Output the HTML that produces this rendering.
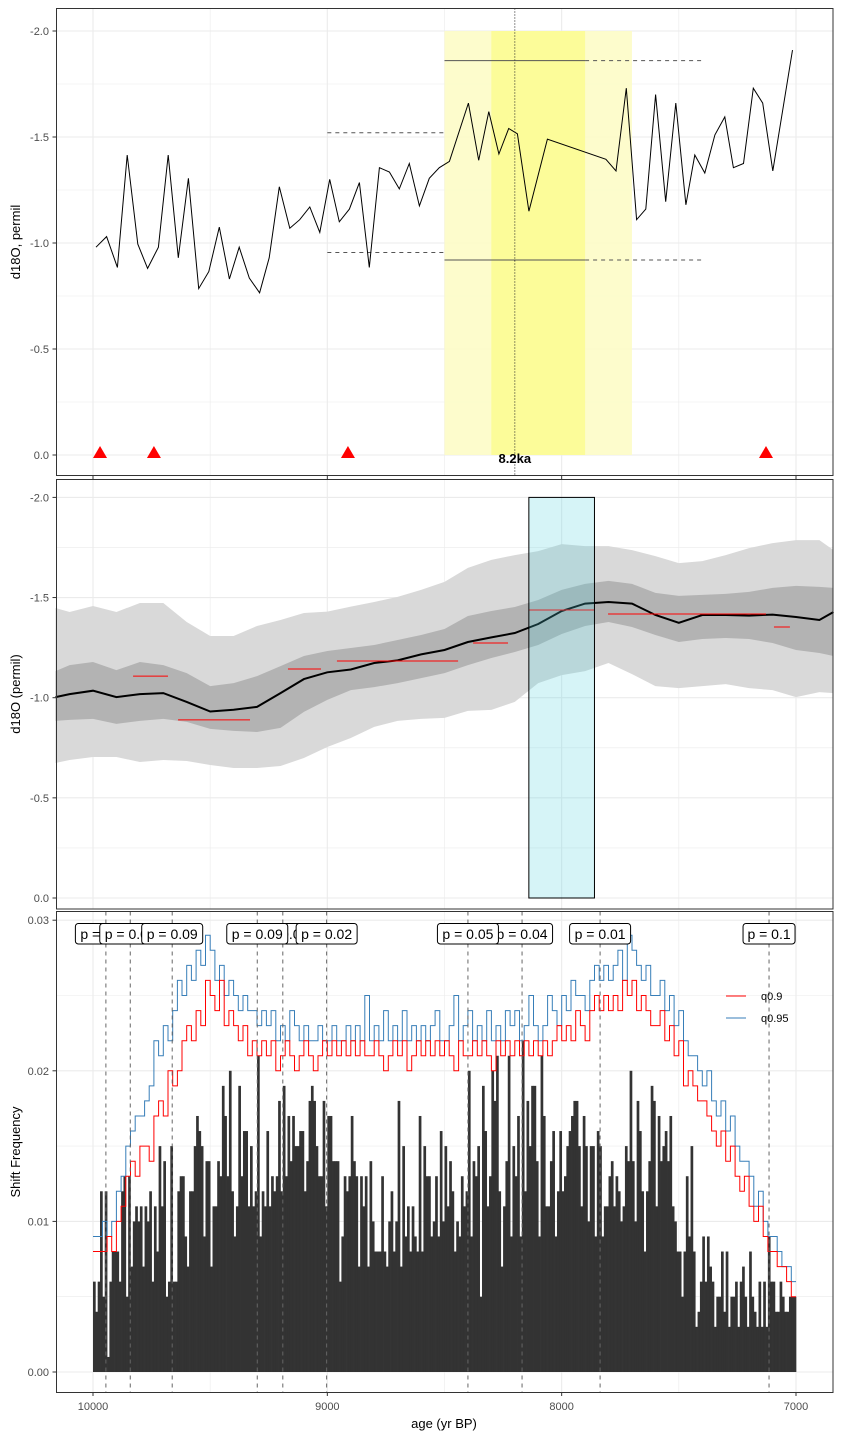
<!DOCTYPE html>
<html><head><meta charset="utf-8"><title>d18O shift analysis</title>
<style>
html,body{margin:0;padding:0;background:#fff;}
svg{display:block;font-family:"Liberation Sans",Arial,sans-serif;}
</style></head>
<body>
<svg id="chart" width="841" height="1439" viewBox="0 0 841 1439" xmlns="http://www.w3.org/2000/svg">
  <rect x="0" y="0" width="841" height="1439" fill="#fff"/>
  <g id="p1"></g>
  <g id="p2"></g>
  <g id="p3"></g>
  <text transform="translate(20,242) rotate(-90)" text-anchor="middle" font-size="13">d18O, permil</text>
  <text transform="translate(20,694) rotate(-90)" text-anchor="middle" font-size="13">d18O (permil)</text>
  <text transform="translate(20,1152) rotate(-90)" text-anchor="middle" font-size="13">Shift Frequency</text>
  <text x="444" y="1428" text-anchor="middle" font-size="13">age (yr BP)</text>
</svg>
<script>
// ---------- Panel 1 data (raw record) ----------
const rawAges = [9987,9942,9896,9854,9809,9767,9721,9679,9636,9593,9549,9506,9461,9418,9376,9333,9289,9248,9205,9160,9118,9075,9032,8990,8949,8906,8863,8821,8778,8735,8693,8650,8607,8565,8522,8479,8398,8354,8311,8268,8226,8189,8140,8061,7811,7768,7724,7680,7641,7599,7556,7513,7470,7432,7389,7346,7304,7267,7224,7182,7142,7099,7015];
const rawValues = [-0.98,-1.03,-0.885,-1.415,-0.995,-0.88,-0.98,-1.415,-0.93,-1.305,-0.785,-0.865,-1.075,-0.83,-0.98,-0.835,-0.765,-0.93,-1.265,-1.07,-1.11,-1.17,-1.05,-1.30,-1.10,-1.16,-1.285,-0.885,-1.355,-1.335,-1.255,-1.375,-1.175,-1.305,-1.355,-1.385,-1.66,-1.39,-1.62,-1.42,-1.54,-1.515,-1.15,-1.49,-1.395,-1.34,-1.73,-1.11,-1.16,-1.70,-1.195,-1.66,-1.18,-1.415,-1.33,-1.51,-1.595,-1.355,-1.375,-1.73,-1.66,-1.34,-1.91];
const triangleAges = [9970,9740,8912,7128];
const eventOuter = [8500,7700];
const eventInner = [8300,7900];
const eventCenter = 8200;
const eventMeans = [-1.86,-0.92];
const preMeans = [-1.52,-0.955];
const p1Ticks = [-2.0,-1.5,-1.0,-0.5,0.0];
const xTicks = [10000,9000,8000,7000];

// ---------- Panel 2 data (smoothed record) ----------
const bandAges = [10160,10100,10000,9900,9800,9700,9600,9500,9400,9300,9200,9100,9000,8900,8800,8700,8600,8500,8400,8300,8200,8100,8000,7900,7800,7700,7600,7500,7400,7300,7200,7100,7000,6900,6840];
const outerUpper = [-1.448,-1.428,-1.458,-1.428,-1.473,-1.473,-1.378,-1.308,-1.308,-1.358,-1.388,-1.423,-1.43,-1.455,-1.478,-1.503,-1.538,-1.578,-1.648,-1.688,-1.712,-1.732,-1.767,-1.757,-1.757,-1.737,-1.707,-1.672,-1.682,-1.712,-1.747,-1.772,-1.787,-1.787,-1.737];
const outerLower = [-0.674,-0.689,-0.704,-0.704,-0.679,-0.689,-0.684,-0.664,-0.649,-0.649,-0.659,-0.699,-0.754,-0.799,-0.854,-0.884,-0.894,-0.899,-0.934,-0.939,-0.979,-1.073,-1.113,-1.133,-1.173,-1.118,-1.058,-1.048,-1.058,-1.068,-1.048,-1.038,-1.003,-1.028,-1.023];
const innerUpper = [-1.133,-1.163,-1.178,-1.138,-1.178,-1.163,-1.123,-1.058,-1.073,-1.108,-1.158,-1.208,-1.233,-1.248,-1.263,-1.288,-1.313,-1.343,-1.408,-1.433,-1.453,-1.488,-1.538,-1.568,-1.583,-1.568,-1.523,-1.508,-1.513,-1.518,-1.528,-1.548,-1.558,-1.553,-1.548];
const innerLower = [-0.884,-0.889,-0.894,-0.869,-0.884,-0.894,-0.879,-0.844,-0.834,-0.829,-0.849,-0.929,-0.989,-1.038,-1.053,-1.073,-1.098,-1.123,-1.163,-1.198,-1.228,-1.263,-1.318,-1.358,-1.378,-1.353,-1.313,-1.278,-1.293,-1.298,-1.293,-1.273,-1.238,-1.223,-1.208];
const meanLine = [-1.003,-1.018,-1.035,-1.003,-1.018,-1.023,-0.979,-0.931,-0.940,-0.954,-1.023,-1.093,-1.127,-1.141,-1.173,-1.186,-1.216,-1.238,-1.278,-1.301,-1.323,-1.368,-1.433,-1.470,-1.478,-1.470,-1.413,-1.374,-1.413,-1.413,-1.410,-1.415,-1.403,-1.388,-1.428];
const segStart = [9829,9637,9168,8959,8378,8139,7802,7094];
const segEnd   = [9680,9330,9027,8442,8229,7862,7128,7026];
const segValue = [-1.108,-0.889,-1.143,-1.183,-1.273,-1.438,-1.418,-1.353];
const highlightAges = [8140,7860];

// ---------- Panel 3 data (shift frequency, thousandths) ----------
const binStartAge = 10000;
const binWidth = 10;
const shiftFreq = [
6,4,6,12,5,12,1,6,8,8, 8,6,12,13,5,13,7,10,11,10, 11,7,11,10,12,6,11,8,15,11, 14,5,6,15,6,6,12,13,13,9,
7,12,12,15,17,16,15,9,14,14, 7,11,11,14,13,19,17,13,20,12, 9,11,19,13,16,16,11,15,11,12, 21,9,12,11,16,11,13,12,13,18,
12,19,13,17,14,17,15,15,16,16, 12,14,18,19,18,15,13,13,18,11,
17,17,14,14,14,6,9,13,12,13, 17,14,13,7,13,11,13,7,14,10, 8,8,8,13,8,7,10,12,8,10, 18,7,15,9,11,8,11,9,8,17,
8,15,13,13,9,10,13,9,16,10, 15,11,14,12,8,10,9,13,11,12, 20,9,14,13,15,5,19,16,11,13, 20,18,21,12,7,11,14,21,9,15,
13,17,9,22,12,18,15,19,19,14, 9,21,17,11,11,14,16,9,12,
16,12,13,15,16,17,18,18,15,11, 17,15,10,15,15,9,16,15,9,11, 11,13,14,11,13,12,10,11,15,14, 20,14,10,18,16,12,8,12,14,19,
18,11,17,14,15,16,14,17,11,10, 8,8,5,8,13,9,15,8,3,4, 6,9,6,9,7,6,3,5,5,8, 4,8,3,5,5,6,3,6,7,5,
3,8,5,4,3,6,3,6,3,9, 6,6,4,4,6,5,4,4,5,5, 5];
const qBinWidth = 20;
const q90 = [8,8,8,9,8, 10,11,13,14,13, 15,15,14,17,18, 17,20,19,20,22, 23,22,24,23,26, 25,24,26,23,24, 23,22,23,21,22, 21,22,21,22,20,
21,22,21,20,21, 22,21,20,21,22, 21,22,21,22,21, 22,21,22,21,21, 22,21,20,21,22, 21,22,20,21,22, 21,22,21,22,21, 22,21,20,22,21,
21,22,21,22,21, 20,22,21,22,21, 22,21,22,21,22, 21,22,21,22,23, 22,23,22,24,23, 22,24,25,24,25, 24,25,24,26,25, 26,24,25,24,23,
23,24,22,23,21, 22,19,20,19,18, 18,17,16,15,16, 14,15,13,12,13, 11,10,11,9,8, 8,7,7,6,5];
const q95 = [9,9,10,9,10, 12,13,15,16,17, 17,18,19,22,21, 23,22,24,26,25, 27,26,28,27,29, 28,26,27,25,26, 25,24,25,24,24, 23,24,23,24,22,
23,22,24,23,22, 23,22,22,23,22, 22,23,22,22,23, 22,23,22,25,22, 23,22,24,22,23, 22,24,22,23,22, 23,22,23,24,22, 22,23,25,22,23,
24,22,23,22,24, 22,23,22,24,23, 24,22,23,25,23, 22,23,25,24,23, 25,24,26,25,25, 24,26,27,26,27, 26,27,28,26,29, 28,27,26,27,25,
25,26,24,25,23, 24,22,21,21,20, 19,20,18,17,18, 16,17,15,14,14, 13,11,12,10,9, 9,8,7,7,6];
const shiftAges = [9945,9190,9841,9662,9299,9003,8169,8400,7836,7115];
const shiftLabels = ["p = 0.08","p = 0.06","p = 0.07","p = 0.09","p = 0.09","p = 0.02","p = 0.04","p = 0.05","p = 0.01","p = 0.1"];
const p3Ticks = [0,10,20,30];
const p3TickLabels = ["0.00","0.01","0.02","0.03"];

// ---------- scales ----------
const NS = "http://www.w3.org/2000/svg";
const PX0 = 56, PX1 = 833;
function xs(a){ return 93 + (10000 - a) * 0.23433; }
function y1(v){ return 455 + v * 212; }
function y2(v){ return 898 + v * 200.3; }
function y3(k){ return 1372 - k * 15.06; }
function mk(tag, attrs, parent){
  const e = document.createElementNS(NS, tag);
  for (const k in attrs) e.setAttribute(k, attrs[k]);
  parent.appendChild(e);
  return e;
}
const p1 = document.getElementById('p1'), p2 = document.getElementById('p2'), p3 = document.getElementById('p3');
const svg = document.getElementById('chart');

function grid(parent, top, bottom, yMajors, yMinors){
  const gx = [10000,9500,9000,8500,8000,7500,7000];
  gx.forEach(a => {
    const l = mk('line', {x1: xs(a), x2: xs(a), y1: top, y2: bottom, stroke: '#ebebeb', 'stroke-width': a % 1000 === 0 ? 1.1 : 0.6}, parent);
    
    
  });
  yMinors.forEach(y => {
    const l = mk('line', {x1: PX0, x2: PX1, y1: y, y2: y, stroke: '#ebebeb', 'stroke-width': 0.6}, parent);
    
    
  });
  yMajors.forEach(y => {
    const l = mk('line', {x1: PX0, x2: PX1, y1: y, y2: y, stroke: '#ebebeb', 'stroke-width': 1.1}, parent);
    
    
  });
}
function yTicks(parent, ys, labels){
  ys.forEach((y, i) => {
    const t = mk('line', {x1: 52.5, x2: 56, y1: y, y2: y, stroke: '#333', 'stroke-width': 1}, parent);
    
    
    const tx = mk('text', {x: 49, y: y + 4, 'text-anchor': 'end', 'font-size': 11, fill: '#4d4d4d'}, parent);
    
    
    tx.textContent = labels[i];
  });
}
function border(parent, top, bottom){
  const r = mk('rect', {x: 56.5, y: top, width: 776.5, height: bottom - top, fill: 'none', stroke: '#333', 'stroke-width': 1}, parent);
  
  
}

// ---------- Panel 1 ----------
(function(){
  const top = 8.5, bottom = 475.5;
  grid(p1, top, bottom, p1Ticks.map(y1), [-1.75,-1.25,-0.75,-0.25].map(y1));
  const lo = mk('rect', {x: xs(eventOuter[0]), y: y1(-2.0), width: xs(eventOuter[1]) - xs(eventOuter[0]), height: y1(0) - y1(-2.0), fill: '#fdfcc6', opacity: 0.9}, p1);
  
  
  const li = mk('rect', {x: xs(eventInner[0]), y: y1(-2.0), width: xs(eventInner[1]) - xs(eventInner[0]), height: y1(0) - y1(-2.0), fill: '#fcfc96', opacity: 0.95}, p1);
  
  
  const cl = mk('line', {x1: xs(eventCenter), x2: xs(eventCenter), y1: top, y2: bottom, stroke: '#222', 'stroke-width': 1, 'stroke-dasharray': '1,2'}, p1);
  
  
  eventMeans.forEach(v => {
    const s = mk('line', {x1: xs(eventOuter[0]), x2: xs(eventInner[1]), y1: y1(v), y2: y1(v), stroke: '#555', 'stroke-width': 1}, p1);
    
    
    const d = mk('line', {x1: xs(eventInner[1]), x2: xs(7400), y1: y1(v), y2: y1(v), stroke: '#555', 'stroke-width': 1, 'stroke-dasharray': '4,4'}, p1);
    
    
  });
  preMeans.forEach(v => {
    const d = mk('line', {x1: xs(9000), x2: xs(eventOuter[0]), y1: y1(v), y2: y1(v), stroke: '#555', 'stroke-width': 1, 'stroke-dasharray': '4,4'}, p1);
    
    
  });
  const pts = rawAges.map((a, i) => xs(a).toFixed(1) + ',' + y1(rawValues[i]).toFixed(1)).join(' ');
  const pl = mk('polyline', {points: pts, fill: 'none', stroke: '#000', 'stroke-width': 1}, p1);
  
  
  triangleAges.forEach(a => {
    const x = xs(a);
    const t = mk('polygon', {points: (x - 7) + ',458 ' + (x + 7) + ',458 ' + x + ',446', fill: '#ff0000'}, p1);
    
    
  });
  const lbl = mk('text', {x: xs(eventCenter), y: 463, 'text-anchor': 'middle', 'font-size': 13, 'font-weight': 'bold'}, p1);
  
  
  lbl.textContent = '8.2ka';
  border(p1, top, bottom);
  yTicks(p1, p1Ticks.map(y1), p1Ticks.map(v => v.toFixed(1)));
  xTicks.forEach(a => {
    const t = mk('line', {x1: xs(a), x2: xs(a), y1: 475.5, y2: 479, stroke: '#333'}, p1);
    
    
  });
})();

// ---------- Panel 2 ----------
(function(){
  const top = 479.5, bottom = 909;
  grid(p2, top, bottom, p1Ticks.map(y2), [-1.75,-1.25,-0.75,-0.25].map(y2));
  function band(up, low, fill, name){
    let d = 'M' + bandAges.map((a, i) => xs(a).toFixed(1) + ',' + y2(up[i]).toFixed(1)).join(' L');
    for (let i = bandAges.length - 1; i >= 0; i--) d += ' L' + xs(bandAges[i]).toFixed(1) + ',' + y2(low[i]).toFixed(1);
    const p = mk('path', {d: d + 'Z', fill: fill}, p2);
    
    
  }
  band(outerUpper, outerLower, '#d9d9d9', 'outer-uncertainty-band');
  band(innerUpper, innerLower, '#b3b3b3', 'inner-uncertainty-band');
  const ml = mk('polyline', {points: bandAges.map((a, i) => xs(a).toFixed(1) + ',' + y2(meanLine[i]).toFixed(1)).join(' '), fill: 'none', stroke: '#000', 'stroke-width': 2}, p2);
  
  
  segStart.forEach((s, i) => {
    const l = mk('line', {x1: xs(s), x2: xs(segEnd[i]), y1: y2(segValue[i]), y2: y2(segValue[i]), stroke: '#ff0000', 'stroke-width': 1}, p2);
    
    
  });
  const hr = mk('rect', {x: xs(highlightAges[0]), y: y2(-2.0), width: xs(highlightAges[1]) - xs(highlightAges[0]), height: y2(0) - y2(-2.0), fill: 'rgba(82,209,221,0.24)', stroke: '#000', 'stroke-width': 1}, p2);
  
  
  border(p2, top, bottom);
  yTicks(p2, p1Ticks.map(y2), p1Ticks.map(v => v.toFixed(1)));
})();

// ---------- Panel 3 ----------
(function(){
  const top = 911.5, bottom = 1392.5;
  grid(p3, top, bottom, p3Ticks.map(y3), [5,15,25].map(y3));
  shiftFreq.forEach((v, i) => {
    const a0 = binStartAge - i * binWidth, a1 = a0 - binWidth;
    const b = mk('rect', {x: xs(a0), y: y3(v), width: xs(a1) - xs(a0) + 0.35, height: y3(0) - y3(v), fill: '#333'}, p3);
    
    
  });
  function step(vals, color, name){
    let d = '';
    vals.forEach((v, i) => {
      const a0 = binStartAge - i * qBinWidth, a1 = a0 - qBinWidth;
      d += (i === 0 ? 'M' : ' L') + xs(a0).toFixed(1) + ',' + y3(v).toFixed(1) + ' L' + xs(a1).toFixed(1) + ',' + y3(v).toFixed(1);
    });
    const p = mk('path', {d: d, fill: 'none', stroke: color, 'stroke-width': 1}, p3);
    
    
  }
  step(q95, '#377eb8', 'q95-threshold-line');
  step(q90, '#ff0000', 'q90-threshold-line');
  shiftAges.forEach(a => {
    const l = mk('line', {x1: xs(a), x2: xs(a), y1: top, y2: bottom, stroke: '#666', 'stroke-width': 1, 'stroke-dasharray': '4,4'}, p3);
    
    
  });
  shiftAges.forEach((a, i) => {
    const w = 9 * shiftLabels[i].length - 11;
    const g = mk('g', {}, p3);
    
    
    mk('rect', {x: xs(a) - w / 2, y: 923.5, width: w, height: 20.5, rx: 3, fill: '#fff', stroke: '#000', 'stroke-width': 1}, g);
    const t = mk('text', {x: xs(a), y: 939, 'text-anchor': 'middle', 'font-size': 14}, g);
    t.textContent = shiftLabels[i];
  });
  // legend
  const lg = mk('g', {}, p3);
  
  
  [['q0.9', '#ff0000', 996], ['q0.95', '#377eb8', 1018]].forEach(e => {
    const l = mk('line', {x1: 726, x2: 746, y1: e[2], y2: e[2], stroke: e[1], 'stroke-width': 1}, lg);
    
    
    const t = mk('text', {x: 761, y: e[2] + 4, 'font-size': 11, fill: '#000'}, lg);
    
    
    t.textContent = e[0];
  });
  border(p3, top, bottom);
  yTicks(p3, p3Ticks.map(y3), p3TickLabels);
  xTicks.forEach(a => {
    const t = mk('line', {x1: xs(a), x2: xs(a), y1: 1392.5, y2: 1396, stroke: '#333'}, p3);
    
    
    const tx = mk('text', {x: xs(a), y: 1410, 'text-anchor': 'middle', 'font-size': 11, fill: '#4d4d4d'}, p3);
    
    
    tx.textContent = String(a);
  });
})();
</script>
</body></html>
